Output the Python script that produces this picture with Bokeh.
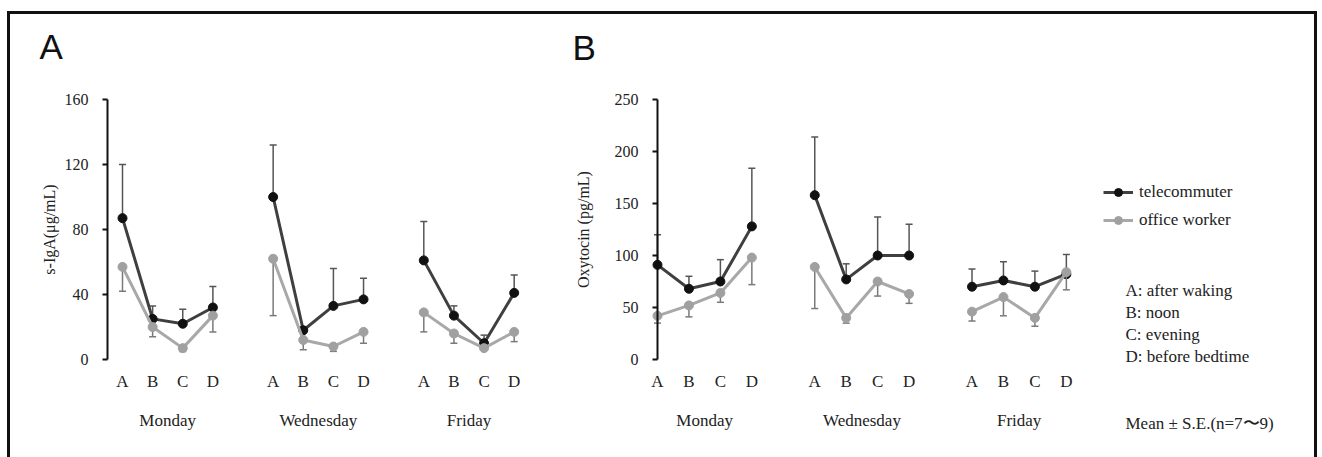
from bokeh.plotting import figure
from bokeh.layouts import row
from bokeh.models import (Range1d, FixedTicker, LinearAxis, Legend, LegendItem,
                          Label, ColumnDataSource)
from bokeh.embed import file_html
from bokeh.resources import INLINE

# ---------------- data ----------------
days = ["Monday", "Wednesday", "Friday"]
periods = ["A", "B", "C", "D"]
series_names = ["telecommuter", "office worker"]

# Panel A: s-IgA (ug/mL), order Mon A-D, Wed A-D, Fri A-D
iga_tele_mean = [87, 25, 22, 32, 100, 18, 33, 37, 61, 27, 10, 41]
iga_tele_se = [33, 8, 9, 13, 32, 2, 23, 13, 24, 6, 5, 11]
iga_office_mean = [57, 20, 7, 27, 62, 12, 8, 17, 29, 16, 7, 17]
iga_office_se = [15, 6, 2, 10, 35, 6, 3, 7, 12, 6, 1, 6]
iga_ticks = [0, 40, 80, 120, 160]

# Panel B: Oxytocin (pg/mL)
oxy_tele_mean = [91, 68, 75, 128, 158, 77, 100, 100, 70, 76, 70, 82]
oxy_tele_se = [29, 12, 21, 56, 56, 15, 37, 30, 17, 18, 15, 19]
oxy_office_mean = [42, 52, 64, 98, 89, 40, 75, 63, 46, 60, 40, 84]
oxy_office_se = [7, 11, 9, 26, 40, 5, 14, 9, 9, 18, 8, 17]
oxy_ticks = [0, 50, 100, 150, 200, 250]

notes = ["A: after waking", "B: noon", "C: evening", "D: before bedtime"]
stat_note = "Mean \u00b1 S.E.(n=7\u301c9)"

# ---------------- layout constants (page pixels) ----------------
SERIF = "Liberation Serif"
TELE_LINE, TELE_MARK, TELE_ERR = "#3f3f3f", "#111111", "#555555"
OFF_LINE, OFF_MARK, OFF_ERR = "#a8a8a8", "#a0a0a0", "#7a7a7a"
TXT = "#222222"

W, H = 1304, 443            # figure size (inside the CSS frame border)
OX, OY = 10, 14             # page position of the figure's top-left corner
ZERO_Y, AXIS_H = 359, 260   # page y of value 0, pixel height of the value axis

GROUP_STRIDE = 5
xs = [g * GROUP_STRIDE + i for g in range(len(days)) for i in range(len(periods))]
centers = [g * GROUP_STRIDE + (len(periods) - 1) / 2 for g in range(len(days))]


def x_range_for(px_first, px_step):
    return Range1d((OX - px_first) / px_step, (OX + W - px_first) / px_step)


def y_range_for(vmax):
    ppu = AXIS_H / vmax
    return Range1d((ZERO_Y - (OY + H)) / ppu, (ZERO_Y - OY) / ppu)


def groups(vals):
    n = len(periods)
    return [vals[g * n:(g + 1) * n] for g in range(len(days))]


p = figure(frame_width=W, frame_height=H, min_border=0,
           x_range=x_range_for(122, 30.13), y_range=y_range_for(160),
           x_axis_type=None, y_axis_type=None,
           output_backend="svg", toolbar_location=None,
           background_fill_color="white", border_fill_color="white")
p.extra_x_ranges = {"b": x_range_for(657, 31.45),
                    "px": Range1d(OX, OX + W)}
p.extra_y_ranges = {"b": y_range_for(250),
                    "px": Range1d(OY + H, OY)}
p.outline_line_color = None


def add_panel(rx, ry, ylabel, vmax, yticks, axis_x, label_standoff,
              tm, ts, om, osd):
    ya = LinearAxis(x_range_name=rx, y_range_name=ry, fixed_location=axis_x,
                    bounds=(0, vmax), ticker=FixedTicker(ticks=yticks),
                    axis_line_width=2, axis_line_color="#111111",
                    major_tick_line_width=2, major_tick_line_color="#111111",
                    major_tick_in=0, major_tick_out=5, minor_tick_line_color=None,
                    major_label_standoff=14, major_label_text_font=SERIF,
                    major_label_text_font_size="16px", major_label_text_color=TXT,
                    axis_label=ylabel, axis_label_text_font=SERIF,
                    axis_label_text_font_size="16px", axis_label_text_font_style="normal",
                    axis_label_text_color=TXT, axis_label_standoff=label_standoff)
    p.add_layout(ya, "left")

    ax1 = LinearAxis(x_range_name=rx, y_range_name=ry, fixed_location=0,
                     ticker=FixedTicker(ticks=xs),
                     major_label_overrides={x: periods[i % len(periods)] for i, x in enumerate(xs)},
                     axis_line_color=None, major_tick_line_color=None,
                     minor_tick_line_color=None, major_label_standoff=6,
                     major_label_text_font=SERIF, major_label_text_font_size="17px",
                     major_label_text_color=TXT)
    ax2 = LinearAxis(x_range_name=rx, y_range_name=ry, fixed_location=0,
                     ticker=FixedTicker(ticks=centers),
                     major_label_overrides={c: d for c, d in zip(centers, days)},
                     axis_line_color=None, major_tick_line_color=None,
                     minor_tick_line_color=None, major_label_standoff=45,
                     major_label_text_font=SERIF, major_label_text_font_size="17px",
                     major_label_text_color=TXT)
    p.add_layout(ax1, "below")
    p.add_layout(ax2, "below")

    kw = dict(x_range_name=rx, y_range_name=ry)
    src_t = ColumnDataSource(dict(x=xs, y=tm, top=[m + s for m, s in zip(tm, ts)]))
    p.segment(x0="x", y0="y", x1="x", y1="top", source=src_t,
              line_color=TELE_ERR, line_width=1.5, **kw)
    p.scatter(x="x", y="top", source=src_t, marker="dash", size=7,
              line_color=TELE_ERR, line_width=1.5, **kw)
    tl = p.multi_line(xs=groups(xs), ys=groups(tm), line_color=TELE_LINE, line_width=3, **kw)
    tm_r = p.scatter(x="x", y="y", source=src_t, marker="circle", size=9,
                     fill_color=TELE_MARK, line_color=TELE_MARK, **kw)

    src_o = ColumnDataSource(dict(x=xs, y=om, bot=[m - s for m, s in zip(om, osd)]))
    p.segment(x0="x", y0="y", x1="x", y1="bot", source=src_o,
              line_color=OFF_ERR, line_width=1.5, **kw)
    p.scatter(x="x", y="bot", source=src_o, marker="dash", size=7,
              line_color=OFF_ERR, line_width=1.5, **kw)
    ol = p.multi_line(xs=groups(xs), ys=groups(om), line_color=OFF_LINE, line_width=3, **kw)
    om_r = p.scatter(x="x", y="y", source=src_o, marker="circle", size=9,
                     fill_color=OFF_MARK, line_color=OFF_MARK, **kw)
    return (tl, tm_r), (ol, om_r)


add_panel("default", "default", "s-IgA(\u03bcg/mL)", 160, iga_ticks, -0.5, 4,
          iga_tele_mean, iga_tele_se, iga_office_mean, iga_office_se)
tele_r, off_r = add_panel("b", "b", "Oxytocin (pg/mL)", 250, oxy_ticks, 0, 20,
                          oxy_tele_mean, oxy_tele_se, oxy_office_mean, oxy_office_se)

# panel letters
for letter, lx, ly in (("A", 39, 46), ("B", 572, 47)):
    p.add_layout(Label(x=lx, y=ly, x_range_name="px", y_range_name="px", text=letter,
                       text_font="Liberation Sans", text_font_size="35px",
                       text_baseline="middle", text_color="#111111"))

legend = Legend(items=[LegendItem(label=series_names[0], renderers=list(tele_r)),
                       LegendItem(label=series_names[1], renderers=list(off_r))],
                location=(1103 - OX, OY + H - 230), orientation="vertical",
                glyph_width=30, glyph_height=20, label_height=20, spacing=8,
                label_standoff=6, padding=0, margin=0,
                border_line_color=None, background_fill_alpha=0,
                label_text_font=SERIF, label_text_font_size="17px",
                label_text_color=TXT)
p.add_layout(legend, "center")

for i, t in enumerate(notes):
    p.add_layout(Label(x=1125, y=290 + 22 * i, x_range_name="px", y_range_name="px",
                       text=t, text_font=SERIF, text_font_size="17px",
                       text_baseline="middle", text_color=TXT))
p.add_layout(Label(x=1125, y=423, x_range_name="px", y_range_name="px",
                   text=stat_note, text_font=SERIF, text_font_size="17px",
                   text_baseline="middle", text_color=TXT))

layout = row(p, styles={"border-top": "3px solid #111111",
                        "border-left": "3px solid #111111",
                        "border-right": "3px solid #111111",
                        "margin-top": "11px", "margin-left": "7px"})

with open("out.html", "w") as f:
    f.write(file_html(layout, INLINE))
